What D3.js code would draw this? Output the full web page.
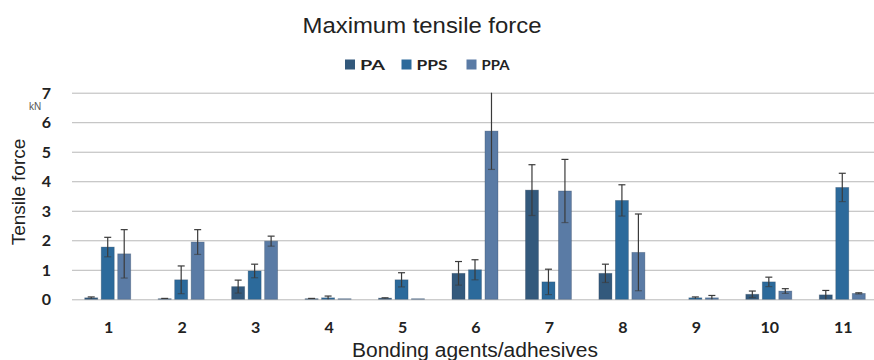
<!DOCTYPE html>
<html>
    <head>
        <script src="https://d3js.org/d3.v7.min.js"></script>
        <style>
            body { margin: 0; background: white; }
            .gridlines line { stroke: #b8b8b8; }
            .gridlines .domain { stroke: none; }
            .tickLabel { font-family: Lato, "Open Sans", sans-serif; font-weight: bold; font-size: 16px; fill: #222; }
        </style>
    </head>
    <body>
        <svg id="svg" width=874 height=360></svg>
        <script>
            // Data (kN)
            const categories = ["1","2","3","4","5","6","7","8","9","10","11"];
            const seriesNames = ["PA", "PPS", "PPA"];
            const paValues  = [0.05, 0.02, 0.43, 0.02, 0.04, 0.88, 3.70, 0.88, 0.00, 0.17, 0.15];
            const paErrors  = [0.03, 0.01, 0.22, 0.01, 0.01, 0.40, 0.86, 0.31, 0.00, 0.11, 0.15];
            const ppsValues = [1.77, 0.66, 0.96, 0.05, 0.66, 1.00, 0.59, 3.35, 0.05, 0.59, 3.79];
            const ppsErrors = [0.33, 0.47, 0.23, 0.06, 0.24, 0.34, 0.43, 0.53, 0.03, 0.16, 0.48];
            const ppaValues = [1.54, 1.94, 1.97, 0.02, 0.02, 5.70, 3.67, 1.59, 0.05, 0.28, 0.20];
            const ppaErrors = [0.82, 0.42, 0.17, 0.00, 0.00, 1.30, 1.07, 1.30, 0.08, 0.08, 0.02];
            const yTicks = [0, 1, 2, 3, 4, 5, 6, 7];
            const colors = ["#33597c", "#2c6a9b", "#5a7ba5"];

            const svg = d3.select("svg#svg");
            const margins = { top: 92.7, left: 72, right: 880, bottom: 299.3 };

            // Flatten into rows for the bars
            const valueSets = [paValues, ppsValues, ppaValues];
            const errorSets = [paErrors, ppsErrors, ppaErrors];
            let rows = [];
            categories.forEach((c, i) => {
                seriesNames.forEach((s, j) => {
                    rows.push({ cat: c, series: s, value: valueSets[j][i], err: errorSets[j][i], color: colors[j] });
                });
            });

            // Scales
            const catScale = d3.scaleBand()
                               .domain(categories)
                               .range([margins.left, margins.right]);
            const groupWidth = 46;
            const seriesScale = d3.scaleBand()
                                  .domain(seriesNames)
                                  .range([-groupWidth/2 - 1, groupWidth/2 - 1])
                                  .paddingInner(0.21);
            const yScale = d3.scaleLinear()
                             .domain([0, 7])
                             .range([margins.bottom, margins.top]);

            // Gridlines
            let gridLines = d3.axisLeft(yScale)
                              .tickValues(yTicks)
                              .tickSize(-(874 - margins.left))
                              .tickFormat('');
            svg.append('g')
               .attr('class', 'gridlines')
               .attr('transform', `translate(${margins.left}, 0)`)
               .call(gridLines);

            // Y tick labels
            svg.append('g')
               .selectAll('text')
               .data(yTicks)
               .join('text')
               .attr('class', 'tickLabel')
               .attr('x', 51)
               .attr('y', d => yScale(d) + 6)
               .attr('text-anchor', 'end')
               .text(d => d);

            // X tick labels
            svg.append('g')
               .selectAll('text')
               .data(categories)
               .join('text')
               .attr('class', 'tickLabel')
               .attr('x', d => catScale(d) + catScale.bandwidth()/2)
               .attr('y', 333)
               .attr('text-anchor', 'middle')
               .text(d => d);

            // Bars
            const barX = d => catScale(d.cat) + catScale.bandwidth()/2 + seriesScale(d.series);
            svg.append('g')
               .attr('id', 'bars')
               .selectAll('rect')
               .data(rows)
               .join('rect')
               .attr('x', barX)
               .attr('width', seriesScale.bandwidth())
               .attr('y', d => yScale(d.value))
               .attr('height', d => yScale(0) - yScale(d.value))
               .attr('fill', d => d.color)
               .attr('stroke', '#2a3f55')
               .attr('stroke-opacity', 0.35)
               .attr('stroke-width', 0.8);

            // Error bars
            const errRows = rows.filter(d => d.err > 0);
            const midX = d => barX(d) + seriesScale.bandwidth()/2;
            let errs = svg.append('g')
                          .attr('id', 'errors')
                          .attr('stroke', '#3a3a3a')
                          .attr('stroke-width', 1.2);
            errs.selectAll('line.whisker')
                .data(errRows)
                .join('line')
                .attr('class', 'whisker')
                .attr('x1', midX).attr('x2', midX)
                .attr('y1', d => yScale(Math.max(0, d.value - d.err)))
                .attr('y2', d => yScale(Math.min(7, d.value + d.err)));
            errs.selectAll('line.capTop')
                .data(errRows.filter(d => d.value + d.err < 6.95))
                .join('line')
                .attr('class', 'capTop')
                .attr('x1', d => midX(d) - 3.5).attr('x2', d => midX(d) + 3.5)
                .attr('y1', d => yScale(d.value + d.err))
                .attr('y2', d => yScale(d.value + d.err));
            errs.selectAll('line.capLow')
                .data(errRows.filter(d => d.value - d.err > 0.05))
                .join('line')
                .attr('class', 'capLow')
                .attr('stroke-opacity', 0.6)
                .attr('x1', d => midX(d) - 3.5).attr('x2', d => midX(d) + 3.5)
                .attr('y1', d => yScale(d.value - d.err))
                .attr('y2', d => yScale(d.value - d.err));

            // Title
            svg.append('text')
               .attr('x', 422)
               .attr('y', 33)
               .attr('text-anchor', 'middle')
               .attr('textLength', 239)
               .attr('lengthAdjust', 'spacingAndGlyphs')
               .style('font-family', '"Liberation Sans", Arial, sans-serif')
               .style('font-size', '22px')
               .style('fill', '#222')
               .text('Maximum tensile force');

            // Legend
            const legendX = [345, 401.5, 466.5];
            const legendTextW = [25, 31, 28];
            let legend = svg.append('g').attr('id', 'legend');
            let items = legend.selectAll('g')
                              .data(seriesNames)
                              .join('g')
                              .attr('transform', (d, i) => `translate(${legendX[i]}, 59.5)`);
            items.append('rect')
                 .attr('width', 10).attr('height', 10)
                 .attr('fill', (d, i) => colors[i]);
            items.append('text')
                 .attr('x', 15)
                 .attr('y', 10)
                 .attr('textLength', (d, i) => legendTextW[i])
                 .attr('lengthAdjust', 'spacingAndGlyphs')
                 .style('font-family', 'Lato, "Open Sans", sans-serif')
                 .style('font-weight', 'bold')
                 .style('font-size', '14px')
                 .style('fill', '#222')
                 .text(d => d);

            // Axis titles
            svg.append('text')
               .attr('transform', 'translate(25, 192) rotate(-90)')
               .attr('text-anchor', 'middle')
               .style('font-family', '"Liberation Sans", Arial, sans-serif')
               .style('font-size', '19px')
               .style('fill', '#222')
               .text('Tensile force');
            svg.append('text')
               .attr('x', 35)
               .attr('y', 110)
               .attr('text-anchor', 'middle')
               .style('font-family', '"Liberation Sans", Arial, sans-serif')
               .style('font-size', '10px')
               .style('fill', '#555')
               .text('kN');
            svg.append('text')
               .attr('x', 475)
               .attr('y', 357)
               .attr('text-anchor', 'middle')
               .attr('textLength', 246)
               .attr('lengthAdjust', 'spacingAndGlyphs')
               .style('font-family', '"Liberation Sans", Arial, sans-serif')
               .style('font-size', '20px')
               .style('fill', '#222')
               .text('Bonding agents/adhesives');
        </script>
    </body>
</html>
